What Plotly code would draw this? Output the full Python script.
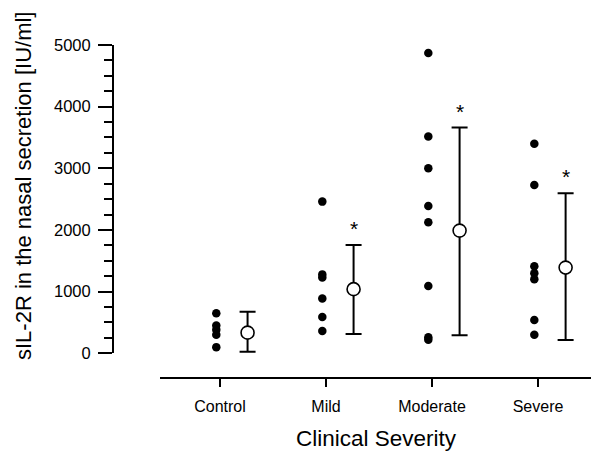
import plotly.graph_objects as go

# ---- data ----
categories = ["Control", "Mild", "Moderate", "Severe"]
control_vals = [650, 450, 380, 300, 100]
mild_vals = [2460, 1280, 1230, 890, 590, 360]
moderate_vals = [4870, 3515, 3000, 2390, 2125, 1090, 260, 220]
severe_vals = [3400, 2730, 1410, 1300, 1200, 540, 300]
group_means = [335, 1040, 1990, 1390]
bar_upper = [675, 1757, 3661, 2597]
bar_lower = [26, 313, 292, 216]
significant = [False, True, True, True]
y_ticks = [0, 1000, 2000, 3000, 4000, 5000]

groups = [control_vals, mild_vals, moderate_vals, severe_vals]

# ---- style constants ----
W, H = 599, 452
OFF = 8  # page body margin
FONT = "Arial, Liberation Sans, Helvetica, sans-serif"
DOT_OFFSET = -0.035
MEAN_OFFSET = 0.26


def px(p):
    return (p - OFF) / W


def py(p):
    return 1 - (p - OFF) / H


fig = go.Figure()

# individual values
dx, dy = [], []
for i, vals in enumerate(groups):
    for v in vals:
        dx.append(i + DOT_OFFSET)
        dy.append(v)
fig.add_trace(go.Scatter(
    x=dx, y=dy, mode="markers",
    marker=dict(size=8.5, color="black", line=dict(width=0)),
    cliponaxis=False, showlegend=False, hoverinfo="y"))

# means with error bars
mx = [i + MEAN_OFFSET for i in range(len(categories))]
fig.add_trace(go.Scatter(
    x=mx, y=group_means, mode="markers",
    marker=dict(size=13, color="white", line=dict(width=1.6, color="black")),
    error_y=dict(type="data", symmetric=False,
                 array=[u - m for u, m in zip(bar_upper, group_means)],
                 arrayminus=[m - l for m, l in zip(group_means, bar_lower)],
                 color="black", thickness=2, width=8),
    cliponaxis=False, showlegend=False, hoverinfo="y"))

# significance stars (placed above the upper error-bar caps)
star_annotations = [
    dict(text="*", x=x, y=u, xref="x", yref="y",
         xanchor="center", yanchor="bottom", yshift=3, showarrow=False,
         font=dict(size=21, family=FONT, color="black"))
    for x, u, s in zip(mx, bar_upper, significant) if s
]

fig.update_layout(
    template="none",
    width=W, height=H,
    margin=dict(l=0, r=0, t=0, b=0, pad=0, autoexpand=False),
    paper_bgcolor="white", plot_bgcolor="white",
    font=dict(family=FONT, color="black", size=16),
    xaxis=dict(
        domain=[px(160), px(599)], anchor="free", position=py(378),
        automargin=False,
        range=[-0.566, 3.575],
        tickvals=list(range(len(categories))), ticktext=categories,
        showline=True, linecolor="black", linewidth=1.5,
        ticks="outside", ticklen=8, tickwidth=1.8, tickcolor="black",
        ticklabelstandoff=6,
        showgrid=False, zeroline=False,
        tickfont=dict(size=16, family=FONT, color="black"),
    ),
    yaxis=dict(
        domain=[py(353.3), py(45)], anchor="free", position=px(113),
        automargin=False,
        range=[0, 5000],
        tickvals=y_ticks,
        showline=True, linecolor="black", linewidth=2,
        ticks="outside", ticklen=14, tickwidth=1.8, tickcolor="black",
        minor=dict(dtick=250, ticks="outside", ticklen=8, tickwidth=1.8,
                   tickcolor="black", showgrid=False),
        ticklabelstandoff=4,
        showgrid=False, zeroline=False,
        tickfont=dict(size=16.5, family=FONT, color="black"),
    ),
    annotations=[
        dict(text="sIL-2R in the nasal secretion [IU/ml]", textangle=-90,
             xref="paper", yref="paper", x=px(23), y=py(186),
             xanchor="center", yanchor="middle", showarrow=False,
             font=dict(size=22, family=FONT, color="black")),
        dict(text="Clinical Severity",
             xref="paper", yref="paper", x=px(376), y=py(438),
             xanchor="center", yanchor="middle", showarrow=False,
             font=dict(size=22.5, family=FONT, color="black")),
    ] + star_annotations,
)

fig.write_html("out.html")
